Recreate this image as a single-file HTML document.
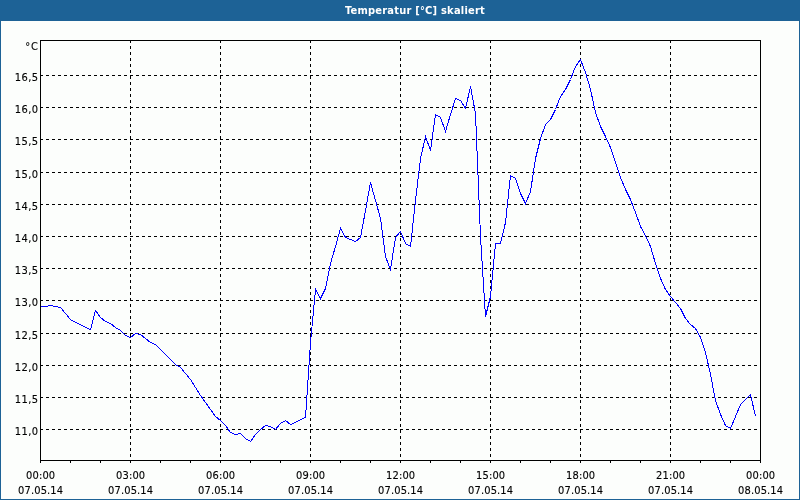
<!DOCTYPE html>
<html><head><meta charset="utf-8"><title>Temperatur [°C] skaliert</title>
<style>
html,body{margin:0;padding:0;}
body{width:800px;height:500px;overflow:hidden;background:#fcfefc;position:relative;font-family:"DejaVu Sans Condensed","Liberation Sans",sans-serif;font-size:11px;color:#000;}
#hdr{position:absolute;left:0;top:0;width:800px;height:21px;background:#1d6296;}
#hdr span{position:absolute;left:345px;top:1px;width:140px;line-height:20px;letter-spacing:0.22px;text-align:center;color:#fff;font-weight:bold;font-size:11px;white-space:nowrap;}
#bl,#br,#bb{position:absolute;background:#1d6296;}
#bl{left:0;top:0;width:1px;height:500px;}
#br{left:799px;top:0;width:1px;height:500px;}
#bb{left:0;top:499px;width:800px;height:1px;}
.yl{position:absolute;left:0;width:38.4px;letter-spacing:0.4px;text-align:right;line-height:12px;height:12px;white-space:nowrap;}
.yl,.xl{-webkit-text-stroke:0.12px #000;}
.xl{position:absolute;width:60px;letter-spacing:0.15px;padding-left:0.15px;text-align:center;line-height:12px;height:12px;white-space:nowrap;}
</style></head><body>
<div id="hdr"><span>Temperatur [°C] skaliert</span></div>
<div id="bl"></div><div id="br"></div><div id="bb"></div>
<svg width="800" height="500" viewBox="0 0 800 500" style="position:absolute;left:0;top:0">
<g shape-rendering="crispEdges" stroke="#000" stroke-width="1" fill="none">
<line x1="40" y1="75.5" x2="760" y2="75.5" stroke-dasharray="3 3"/>
<line x1="40" y1="107.5" x2="760" y2="107.5" stroke-dasharray="3 3"/>
<line x1="40" y1="139.5" x2="760" y2="139.5" stroke-dasharray="3 3"/>
<line x1="40" y1="172.5" x2="760" y2="172.5" stroke-dasharray="3 3"/>
<line x1="40" y1="204.5" x2="760" y2="204.5" stroke-dasharray="3 3"/>
<line x1="40" y1="236.5" x2="760" y2="236.5" stroke-dasharray="3 3"/>
<line x1="40" y1="268.5" x2="760" y2="268.5" stroke-dasharray="3 3"/>
<line x1="40" y1="300.5" x2="760" y2="300.5" stroke-dasharray="3 3"/>
<line x1="40" y1="333.5" x2="760" y2="333.5" stroke-dasharray="3 3"/>
<line x1="40" y1="365.5" x2="760" y2="365.5" stroke-dasharray="3 3"/>
<line x1="40" y1="397.5" x2="760" y2="397.5" stroke-dasharray="3 3"/>
<line x1="40" y1="429.5" x2="760" y2="429.5" stroke-dasharray="3 3"/>
<line x1="130.5" y1="40" x2="130.5" y2="460" stroke-dasharray="3 3"/>
<line x1="220.5" y1="40" x2="220.5" y2="460" stroke-dasharray="3 3"/>
<line x1="310.5" y1="40" x2="310.5" y2="460" stroke-dasharray="3 3"/>
<line x1="400.5" y1="40" x2="400.5" y2="460" stroke-dasharray="3 3"/>
<line x1="490.5" y1="40" x2="490.5" y2="460" stroke-dasharray="3 3"/>
<line x1="580.5" y1="40" x2="580.5" y2="460" stroke-dasharray="3 3"/>
<line x1="670.5" y1="40" x2="670.5" y2="460" stroke-dasharray="3 3"/>
<rect x="40.5" y="40.5" width="720" height="420"/>
<line x1="40.5" y1="460" x2="40.5" y2="463"/>
<line x1="70.5" y1="460" x2="70.5" y2="463"/>
<line x1="100.5" y1="460" x2="100.5" y2="463"/>
<line x1="130.5" y1="460" x2="130.5" y2="463"/>
<line x1="160.5" y1="460" x2="160.5" y2="463"/>
<line x1="190.5" y1="460" x2="190.5" y2="463"/>
<line x1="220.5" y1="460" x2="220.5" y2="463"/>
<line x1="250.5" y1="460" x2="250.5" y2="463"/>
<line x1="280.5" y1="460" x2="280.5" y2="463"/>
<line x1="310.5" y1="460" x2="310.5" y2="463"/>
<line x1="340.5" y1="460" x2="340.5" y2="463"/>
<line x1="370.5" y1="460" x2="370.5" y2="463"/>
<line x1="400.5" y1="460" x2="400.5" y2="463"/>
<line x1="430.5" y1="460" x2="430.5" y2="463"/>
<line x1="460.5" y1="460" x2="460.5" y2="463"/>
<line x1="490.5" y1="460" x2="490.5" y2="463"/>
<line x1="520.5" y1="460" x2="520.5" y2="463"/>
<line x1="550.5" y1="460" x2="550.5" y2="463"/>
<line x1="580.5" y1="460" x2="580.5" y2="463"/>
<line x1="610.5" y1="460" x2="610.5" y2="463"/>
<line x1="640.5" y1="460" x2="640.5" y2="463"/>
<line x1="670.5" y1="460" x2="670.5" y2="463"/>
<line x1="700.5" y1="460" x2="700.5" y2="463"/>
<line x1="730.5" y1="460" x2="730.5" y2="463"/>
<line x1="760.5" y1="460" x2="760.5" y2="463"/>
</g>
<polyline points="40.5,306.5 45.5,306.5 50.5,305.5 55.5,306.5 60.5,307.5 65.5,313.5 70.5,319.5 75.5,322.5 80.5,324.5 85.5,327.5 90.5,329.5 95.5,310.5 100.5,317.5 105.5,321.5 110.5,323.5 115.5,327.5 120.5,330.5 125.5,335.5 130.5,337.5 135.5,333.5 140.5,334.5 145.5,338.5 150.5,342.5 155.5,344.5 160.5,349.5 165.5,354.5 170.5,359.5 175.5,364.5 180.5,367.5 185.5,373.5 190.5,379.5 195.5,387.5 200.5,395.5 205.5,402.5 210.5,409.5 215.5,416.5 220.5,420.5 225.5,425.5 230.5,432.5 235.5,434.5 240.5,433.5 245.5,438.5 250.5,441.5 255.5,434.5 260.5,429.5 265.5,425.5 270.5,426.5 275.5,429.5 280.5,423.5 285.5,420.5 290.5,424.5 295.5,422.5 300.5,419.5 305.5,417.5 310.5,342.5 315.5,289.5 320.5,298.5 325.5,288.5 330.5,263.5 335.5,246.5 340.5,228.5 345.5,237.5 350.5,239.5 355.5,241.5 360.5,237.5 365.5,210.5 370.5,182.5 375.5,200.5 380.5,218.5 385.5,256.5 390.5,269.5 395.5,237.5 400.5,231.5 405.5,243.5 410.5,246.5 415.5,200.5 420.5,158.5 425.5,136.5 430.5,150.5 435.5,114.5 440.5,117.5 445.5,131.5 450.5,114.5 455.5,98.5 460.5,100.5 465.5,108.5 470.5,86.5 475.5,113.5 480.5,236.5 485.5,316.5 490.5,296.5 495.5,243.5 500.5,243.5 505.5,222.5 510.5,175.5 515.5,178.5 520.5,193.5 525.5,203.5 530.5,191.5 535.5,158.5 540.5,138.5 545.5,124.5 550.5,119.5 555.5,109.5 560.5,96.5 565.5,89.5 570.5,79.5 575.5,66.5 580.5,59.5 585.5,72.5 590.5,89.5 595.5,112.5 600.5,126.5 605.5,136.5 610.5,147.5 615.5,162.5 620.5,177.5 625.5,189.5 630.5,199.5 635.5,212.5 640.5,226.5 645.5,235.5 650.5,246.5 655.5,263.5 660.5,278.5 665.5,289.5 670.5,296.5 675.5,302.5 680.5,308.5 685.5,318.5 690.5,324.5 695.5,328.5 700.5,337.5 705.5,352.5 710.5,374.5 715.5,400.5 720.5,414.5 725.5,425.5 730.5,428.5 735.5,416.5 740.5,404.5 745.5,399.5 750.5,394.5 755.5,416.5" fill="none" stroke="#0000ff" stroke-width="1" shape-rendering="crispEdges" stroke-linejoin="miter"/>
</svg>
<div class="yl" style="top:41px;width:39px;letter-spacing:1px">°C</div>
<div class="yl" style="top:72px">16,5</div>
<div class="yl" style="top:104px">16,0</div>
<div class="yl" style="top:136px">15,5</div>
<div class="yl" style="top:169px">15,0</div>
<div class="yl" style="top:201px">14,5</div>
<div class="yl" style="top:233px">14,0</div>
<div class="yl" style="top:265px">13,5</div>
<div class="yl" style="top:297px">13,0</div>
<div class="yl" style="top:330px">12,5</div>
<div class="yl" style="top:362px">12,0</div>
<div class="yl" style="top:394px">11,5</div>
<div class="yl" style="top:426px">11,0</div>
<div class="xl" style="left:10.5px;top:470px">00:00</div>
<div class="xl" style="left:10.5px;top:485px">07.05.14</div>
<div class="xl" style="left:100.5px;top:470px">03:00</div>
<div class="xl" style="left:100.5px;top:485px">07.05.14</div>
<div class="xl" style="left:190.5px;top:470px">06:00</div>
<div class="xl" style="left:190.5px;top:485px">07.05.14</div>
<div class="xl" style="left:280.5px;top:470px">09:00</div>
<div class="xl" style="left:280.5px;top:485px">07.05.14</div>
<div class="xl" style="left:370.5px;top:470px">12:00</div>
<div class="xl" style="left:370.5px;top:485px">07.05.14</div>
<div class="xl" style="left:460.5px;top:470px">15:00</div>
<div class="xl" style="left:460.5px;top:485px">07.05.14</div>
<div class="xl" style="left:550.5px;top:470px">18:00</div>
<div class="xl" style="left:550.5px;top:485px">07.05.14</div>
<div class="xl" style="left:640.5px;top:470px">21:00</div>
<div class="xl" style="left:640.5px;top:485px">07.05.14</div>
<div class="xl" style="left:730.5px;top:470px">00:00</div>
<div class="xl" style="left:730.5px;top:485px">08.05.14</div>
</body></html>
